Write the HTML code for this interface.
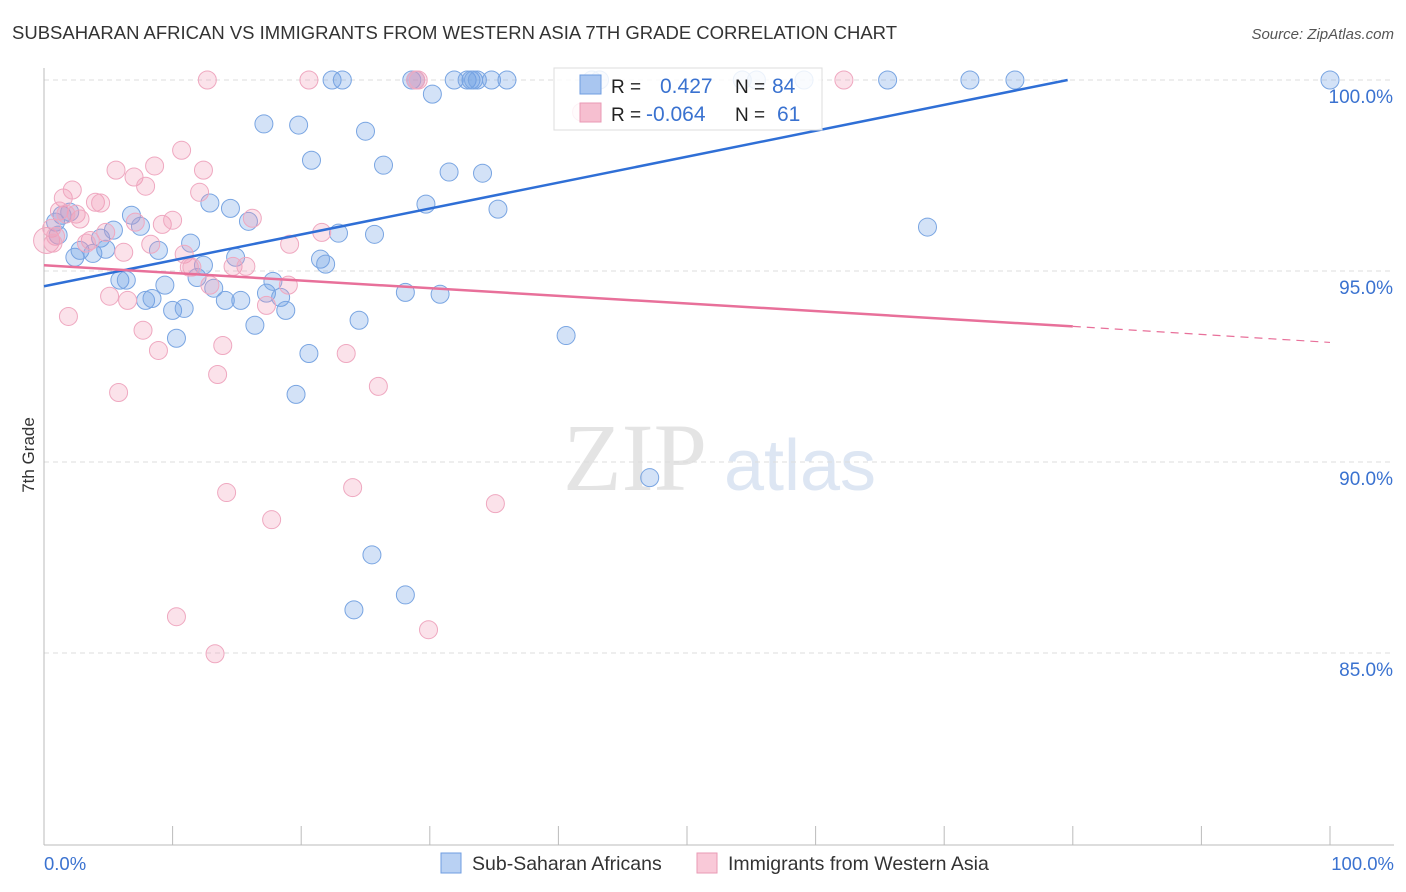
<!DOCTYPE html>
<html><head><meta charset="utf-8"><style>
body{margin:0;background:#fff;font-family:"Liberation Sans",sans-serif;}
svg{display:block}
</style></head><body>
<svg id="chart" width="1406" height="892" xmlns="http://www.w3.org/2000/svg">
<text x="12" y="39" font-size="18" fill="#333" textLength="885" lengthAdjust="spacingAndGlyphs">SUBSAHARAN AFRICAN VS IMMIGRANTS FROM WESTERN ASIA 7TH GRADE CORRELATION CHART</text>
<text x="1394" y="39" font-size="15" fill="#555" font-style="italic" text-anchor="end">Source: ZipAtlas.com</text>
<text x="34" y="455" font-size="17" fill="#333" text-anchor="middle" transform="rotate(-90 34 455)">7th Grade</text>
<g><text x="635" y="490" font-size="96" fill="#e4e4e4" font-family="Liberation Serif,serif" text-anchor="middle">ZIP</text><text x="800" y="490" font-size="72" fill="#dde6f3" text-anchor="middle">atlas</text></g>
<g id="grid"></g><g id="axes"></g><g id="pts"></g><g id="trend"></g>
<g>
<rect x="554" y="68" width="268" height="62" fill="#fff" fill-opacity="0.85" stroke="#ddd"/>
<rect x="580" y="75" width="21" height="19" fill="#a9c6f0" stroke="#6f9de0"/>
<rect x="580" y="103" width="21" height="19" fill="#f6bfd0" stroke="#e99ab5"/>
<text x="611" y="93" font-size="19" fill="#222">R =</text><text x="660" y="93" font-size="21" fill="#3a72d0">0.427</text>
<text x="735" y="93" font-size="19" fill="#222">N =</text><text x="772" y="93" font-size="21" fill="#3a72d0">84</text>
<text x="611" y="121" font-size="19" fill="#222">R =</text><text x="646" y="121" font-size="21" fill="#3a72d0">-0.064</text>
<text x="735" y="121" font-size="19" fill="#222">N =</text><text x="777" y="121" font-size="21" fill="#3a72d0">61</text>
</g>
<g>
<rect x="441" y="853" width="20" height="20" fill="#b9d1f3" stroke="#6f9de0"/>
<text x="472" y="870" font-size="19.5" fill="#333">Sub-Saharan Africans</text>
<rect x="697" y="853" width="20" height="20" fill="#f9c9d8" stroke="#e99ab5"/>
<text x="728" y="870" font-size="19.5" fill="#333">Immigrants from Western Asia</text>
</g>
<text x="44" y="870" font-size="18.5" fill="#3a72d0">0.0%</text>
<text x="1394" y="870" font-size="18.5" fill="#3a72d0" text-anchor="end">100.0%</text>
</svg>
<script>
const yTicks=[100,95,90,85];
const yTickLabels=["100.0%","95.0%","90.0%","85.0%"];
const xTicks=[0,10,20,30,40,50,60,70,80,90,100];
const blueX=[0.9,1.4,2.0,1.1,2.4,2.8,3.8,4.4,4.8,5.4,5.9,6.4,6.8,7.5,7.9,8.4,8.9,9.4,10.0,10.3,10.9,11.4,11.9,12.4,12.9,13.2,14.1,14.5,14.9,15.3,15.9,16.4,17.1,17.3,17.8,18.4,18.8,19.6,19.8,20.6,20.8,21.5,21.9,22.4,22.9,23.2,24.5,25.0,25.5,25.7,24.1,26.4,28.1,28.1,28.6,28.9,29.7,30.2,30.8,31.5,31.9,32.9,33.2,33.4,33.7,34.1,34.8,35.3,36.0,40.6,42.6,43.2,47.1,54.3,55.4,59.1,65.6,68.7,72.0,75.5,100];
const blueY=[96.28,96.46,96.54,95.94,95.36,95.54,95.46,95.86,95.57,96.07,94.76,94.76,96.46,96.17,94.23,94.28,95.54,94.63,93.97,93.24,94.02,95.73,94.83,95.15,96.78,94.55,94.23,96.64,95.36,94.23,96.30,93.58,98.85,94.42,94.73,94.31,93.97,91.77,98.82,92.84,97.90,95.31,95.18,100,95.99,100,93.71,98.66,87.57,95.96,86.13,97.77,94.44,86.52,100,100,96.75,99.63,94.39,97.59,100,100,100,100,100,97.56,100,96.62,100,93.31,100,100,89.59,100,100,100,100,96.15,100,100,100];
const pinkX=[0.2,0.6,0.9,1.5,1.9,2.2,2.5,2.8,3.6,4.0,4.4,4.8,5.1,5.6,5.8,6.2,6.5,7.0,7.7,7.9,8.3,8.6,8.9,9.2,10.0,10.3,10.7,10.9,11.3,11.5,12.1,12.4,12.7,12.9,13.3,13.5,13.9,14.2,14.7,15.7,16.2,17.3,17.7,19.0,19.1,20.6,21.6,23.5,24.0,26.0,28.9,29.1,29.9,35.1,41.8,62.2,0.7,3.3,1.2,1.7,7.1];
const pinkY=[95.80,96.12,95.91,96.91,93.81,97.12,96.49,96.36,95.80,96.80,96.78,96.01,94.34,97.64,91.82,95.49,94.23,97.46,93.45,97.22,95.70,97.75,92.92,96.22,96.33,85.95,98.16,95.44,95.10,95.10,97.06,97.64,100,94.63,84.98,92.29,93.05,89.20,95.12,95.12,96.38,94.10,88.49,94.63,95.70,100,96.01,92.84,89.33,91.98,100,100,85.61,88.91,99.16,100,95.73,95.73,96.57,96.49,96.28];
const blueTrend=[0,94.6,79.6,100];
const pinkTrend=[0,95.15,80,93.55,100,93.13];
const NS="http://www.w3.org/2000/svg";
const sx=v=>44+v*12.86, sy=v=>80+(100-v)*38.2;
function mk(tag,attrs,parent){const e=document.createElementNS(NS,tag);for(const k in attrs)e.setAttribute(k,attrs[k]);document.getElementById(parent).appendChild(e);return e;}
yTicks.forEach((t,i)=>{
 const l=mk('line',{x1:44,x2:1394,y1:sy(t),y2:sy(t),stroke:'#ddd','stroke-dasharray':'5,4'},'grid');
 
 
 const tx=mk('text',{x:1393,y:sy(t)+23,'font-size':19,fill:'#3a72d0','text-anchor':'end'},'grid');
 tx.textContent=yTickLabels[i];
 
 
});
const ax=mk('line',{x1:44,x2:44,y1:68,y2:845,stroke:'#bbb'},'axes');


const bx=mk('line',{x1:44,x2:1394,y1:845,y2:845,stroke:'#bbb'},'axes');


xTicks.forEach(t=>{const l=mk('line',{x1:sx(t),x2:sx(t),y1:826,y2:845,stroke:'#bbb'},'axes');
 
 });
blueX.forEach((x,i)=>{const c=mk('circle',{cx:sx(x),cy:sy(blueY[i]),r:9,fill:'rgba(110,160,230,0.3)',stroke:'#79a5e2','stroke-width':1},'pts');
 
 });
pinkX.forEach((x,i)=>{const c=mk('circle',{cx:sx(x),cy:sy(pinkY[i]),r:i==0?13:9,fill:'rgba(240,150,180,0.28)',stroke:'#efa8c0','stroke-width':1},'pts');
 
 });
const bl=mk('line',{x1:sx(blueTrend[0]),y1:sy(blueTrend[1]),x2:sx(blueTrend[2]),y2:sy(blueTrend[3]),stroke:'#2f6fd6','stroke-width':2.5},'trend');


const pl=mk('line',{x1:sx(pinkTrend[0]),y1:sy(pinkTrend[1]),x2:sx(pinkTrend[2]),y2:sy(pinkTrend[3]),stroke:'#e8709a','stroke-width':2.5},'trend');


const pd=mk('line',{x1:sx(pinkTrend[2]),y1:sy(pinkTrend[3]),x2:sx(pinkTrend[4]),y2:sy(pinkTrend[5]),stroke:'#e8709a','stroke-width':1.2,'stroke-dasharray':'8,6'},'trend');


</script>
</body></html>
